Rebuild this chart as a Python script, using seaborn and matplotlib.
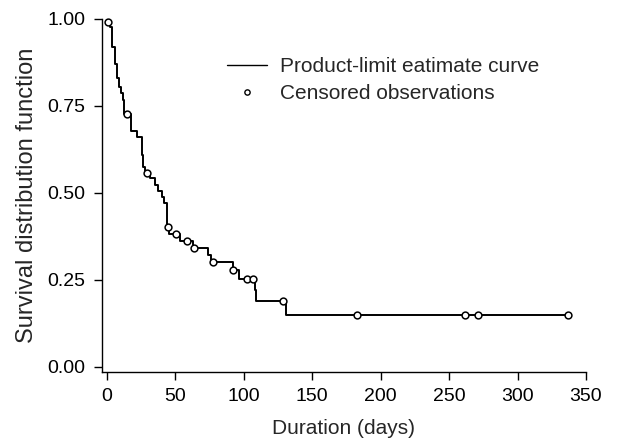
import matplotlib
matplotlib.use("Agg")
import matplotlib.pyplot as plt
import numpy as np
import pandas as pd
import seaborn as sns
from matplotlib.lines import Line2D

# Product-limit (Kaplan-Meier) steps: time of drop, survival after drop
event_times = [2.5, 4.0, 6.0, 7.5, 9.0, 10.5, 11.5, 12.8, 17.5, 21.9, 25.6, 26.3, 27.8,
               31.4, 35.1, 37.3, 40.2, 42.0, 43.6, 45.5, 53.4, 62.6, 73.9, 75.7,
               92.0, 96.7, 108.2, 109.0, 130.6]
event_surv = [0.975, 0.917, 0.870, 0.828, 0.802, 0.787, 0.767, 0.727, 0.676, 0.659, 0.609, 0.575, 0.558,
              0.541, 0.523, 0.506, 0.488, 0.471, 0.401, 0.382, 0.362, 0.342, 0.321, 0.301,
              0.278, 0.252, 0.221, 0.188, 0.150]

# censored observations (days)
censor_times = [0.5, 14.6, 29.0, 44.4, 50.2, 58.3, 63.6, 77.7, 92.3, 102.6, 106.5,
                128.4, 182.7, 261.7, 271.0, 337.0]

x_ticks = [0, 50, 100, 150, 200, 250, 300, 350]
y_ticks = [0.00, 0.25, 0.50, 0.75, 1.00]

# step curve table
curve = pd.DataFrame({
    "t": [0.0] + event_times + [censor_times[-1]],
    "s": [1.0] + event_surv + [event_surv[-1]],
})

# survival value at each censored time, looked up on the step curve
idx = np.searchsorted(curve["t"].values, censor_times, side="right") - 1
cens = pd.DataFrame({"t": censor_times, "s": curve["s"].values[idx]})
cens.loc[0, "s"] = 0.991

sns.set_style("ticks")
plt.rcParams["font.family"] = ["Liberation Sans", "DejaVu Sans"]

fig = plt.figure(figsize=(6.34, 4.41), dpi=100)
ax = fig.add_axes([102 / 634, 69 / 441, 484 / 634, 353.5 / 441])

sns.lineplot(data=curve, x="t", y="s", ax=ax, drawstyle="steps-post",
             color="black", linewidth=1.4, estimator=None, sort=False)
sns.scatterplot(data=cens, x="t", y="s", ax=ax, marker="o", s=24,
                facecolor="white", edgecolor="black", linewidth=1.1,
                zorder=3, clip_on=False)

ax.set_xlim(-3.6, 350)
ax.set_ylim(-0.0144, 1.0)
ax.set_xticks(x_ticks)
ax.set_yticks(y_ticks)
ax.set_xticklabels([str(v) for v in x_ticks])
ax.set_yticklabels(["%.2f" % v for v in y_ticks])
ax.tick_params(axis="both", direction="out", length=5.8, width=1.0,
               labelsize=14, color="black", labelcolor="black", pad=5.5)
ax.tick_params(axis="y", pad=6.0)
for side in ["top", "right"]:
    ax.spines[side].set_visible(False)
for side in ["left", "bottom"]:
    ax.spines[side].set_linewidth(1.0)
    ax.spines[side].set_color("black")

ax.set_xlabel("Duration (days)", fontsize=15, labelpad=10)
ax.set_ylabel("Survival distribution function", fontsize=17, labelpad=7)

handles = [
    Line2D([], [], color="black", linewidth=1.0),
    Line2D([], [], color="black", linestyle="none", marker="o", markersize=3.8,
           markerfacecolor="white", markeredgewidth=1.0),
]
ax.legend(handles, ["Product-limit eatimate curve", "Censored observations"],
          loc="upper left", bbox_to_anchor=(125 / 484, 1 - 39 / 353.5),
          frameon=False, fontsize=15, handlelength=1.92, handletextpad=0.62,
          labelspacing=0.35, borderaxespad=0, borderpad=0)

fig.savefig("out.png", dpi=100)
